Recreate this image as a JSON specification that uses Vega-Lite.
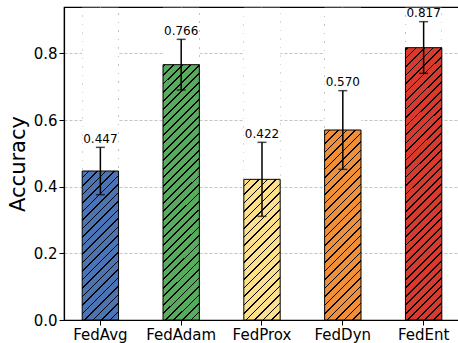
{
  "$schema": "https://vega.github.io/schema/vega-lite/v6.json",
  "width": 396,
  "height": 313,
  "autosize": {"type": "none"},
  "padding": {"left": 64, "top": 7, "right": 0, "bottom": 23},
  "config": {
    "font": "DejaVu Sans",
    "view": {"stroke": "#000", "strokeWidth": 1.2},
    "axis": {
      "labelColor": "#000", "titleColor": "#000", "tickColor": "#000", "domainColor": "#000",
      "domainWidth": 1.2, "tickWidth": 1, "tickSize": 5, "labelFontSize": 15,
      "titleFontSize": 21, "titleFontWeight": "normal", "labelPadding": 2,
      "grid": true, "gridColor": "#bdbdbd", "gridDash": [3, 2], "gridWidth": 0.9, "zindex": 1
    }
  },
  "data": {"values": [
    {"method": "FedAvg", "acc": 0.447, "lo": 0.376, "hi": 0.518},
    {"method": "FedAdam", "acc": 0.766, "lo": 0.690, "hi": 0.842},
    {"method": "FedProx", "acc": 0.422, "lo": 0.311, "hi": 0.533},
    {"method": "FedDyn", "acc": 0.570, "lo": 0.452, "hi": 0.688},
    {"method": "FedEnt", "acc": 0.817, "lo": 0.740, "hi": 0.895}
  ]},
  "encoding": {
    "x": {
      "field": "method", "type": "nominal", "sort": null,
      "scale": {"paddingInner": 0.55, "paddingOuter": 0.225},
      "axis": {"title": null, "labelAngle": 0, "bandPosition": 0.5}
    }
  },
  "layer": [
    {
      "mark": {"type": "bar", "stroke": null},
      "encoding": {
        "y": {"field": "acc", "type": "quantitative", "title": "Accuracy",
          "scale": {"domain": [0, 0.939], "nice": false},
          "axis": {"values": [0, 0.2, 0.4, 0.6, 0.8], "format": ".1f", "titlePadding": 5}},
        "fill": {"field": "method", "type": "nominal", "legend": null,
          "scale": {"domain": ["FedAvg", "FedAdam", "FedProx", "FedDyn", "FedEnt"],
            "range": ["#4a74b3", "#57ab5c", "#fde08b", "#f08f3a", "#d93a2e"]}}
      }
    },
    {
      "mark": {"type": "bar", "stroke": null, "fill": {"gradient": "linear", "x1": 0, "y1": 0, "x2": 0.128, "y2": 1.1013, "stops": [
        {"offset": 0, "color": "rgba(0,0,0,0)"},
        {"offset": 0.0221, "color": "rgba(0,0,0,0)"}, {"offset": 0.0221, "color": "#000"}, {"offset": 0.0267, "color": "#000"}, {"offset": 0.0267, "color": "rgba(0,0,0,0)"},
        {"offset": 0.0465, "color": "rgba(0,0,0,0)"}, {"offset": 0.0465, "color": "#000"}, {"offset": 0.0511, "color": "#000"}, {"offset": 0.0511, "color": "rgba(0,0,0,0)"},
        {"offset": 0.0709, "color": "rgba(0,0,0,0)"}, {"offset": 0.0709, "color": "#000"}, {"offset": 0.0755, "color": "#000"}, {"offset": 0.0755, "color": "rgba(0,0,0,0)"},
        {"offset": 0.0953, "color": "rgba(0,0,0,0)"}, {"offset": 0.0953, "color": "#000"}, {"offset": 0.0999, "color": "#000"}, {"offset": 0.0999, "color": "rgba(0,0,0,0)"},
        {"offset": 0.1197, "color": "rgba(0,0,0,0)"}, {"offset": 0.1197, "color": "#000"}, {"offset": 0.1243, "color": "#000"}, {"offset": 0.1243, "color": "rgba(0,0,0,0)"},
        {"offset": 0.1440, "color": "rgba(0,0,0,0)"}, {"offset": 0.1440, "color": "#000"}, {"offset": 0.1486, "color": "#000"}, {"offset": 0.1486, "color": "rgba(0,0,0,0)"},
        {"offset": 0.1684, "color": "rgba(0,0,0,0)"}, {"offset": 0.1684, "color": "#000"}, {"offset": 0.1730, "color": "#000"}, {"offset": 0.1730, "color": "rgba(0,0,0,0)"},
        {"offset": 0.1928, "color": "rgba(0,0,0,0)"}, {"offset": 0.1928, "color": "#000"}, {"offset": 0.1974, "color": "#000"}, {"offset": 0.1974, "color": "rgba(0,0,0,0)"},
        {"offset": 0.2172, "color": "rgba(0,0,0,0)"}, {"offset": 0.2172, "color": "#000"}, {"offset": 0.2218, "color": "#000"}, {"offset": 0.2218, "color": "rgba(0,0,0,0)"},
        {"offset": 0.2416, "color": "rgba(0,0,0,0)"}, {"offset": 0.2416, "color": "#000"}, {"offset": 0.2462, "color": "#000"}, {"offset": 0.2462, "color": "rgba(0,0,0,0)"},
        {"offset": 0.2660, "color": "rgba(0,0,0,0)"}, {"offset": 0.2660, "color": "#000"}, {"offset": 0.2706, "color": "#000"}, {"offset": 0.2706, "color": "rgba(0,0,0,0)"},
        {"offset": 0.2904, "color": "rgba(0,0,0,0)"}, {"offset": 0.2904, "color": "#000"}, {"offset": 0.2950, "color": "#000"}, {"offset": 0.2950, "color": "rgba(0,0,0,0)"},
        {"offset": 0.3148, "color": "rgba(0,0,0,0)"}, {"offset": 0.3148, "color": "#000"}, {"offset": 0.3194, "color": "#000"}, {"offset": 0.3194, "color": "rgba(0,0,0,0)"},
        {"offset": 0.3392, "color": "rgba(0,0,0,0)"}, {"offset": 0.3392, "color": "#000"}, {"offset": 0.3438, "color": "#000"}, {"offset": 0.3438, "color": "rgba(0,0,0,0)"},
        {"offset": 0.3636, "color": "rgba(0,0,0,0)"}, {"offset": 0.3636, "color": "#000"}, {"offset": 0.3682, "color": "#000"}, {"offset": 0.3682, "color": "rgba(0,0,0,0)"},
        {"offset": 0.3879, "color": "rgba(0,0,0,0)"}, {"offset": 0.3879, "color": "#000"}, {"offset": 0.3925, "color": "#000"}, {"offset": 0.3925, "color": "rgba(0,0,0,0)"},
        {"offset": 0.4123, "color": "rgba(0,0,0,0)"}, {"offset": 0.4123, "color": "#000"}, {"offset": 0.4169, "color": "#000"}, {"offset": 0.4169, "color": "rgba(0,0,0,0)"},
        {"offset": 0.4367, "color": "rgba(0,0,0,0)"}, {"offset": 0.4367, "color": "#000"}, {"offset": 0.4413, "color": "#000"}, {"offset": 0.4413, "color": "rgba(0,0,0,0)"},
        {"offset": 0.4611, "color": "rgba(0,0,0,0)"}, {"offset": 0.4611, "color": "#000"}, {"offset": 0.4657, "color": "#000"}, {"offset": 0.4657, "color": "rgba(0,0,0,0)"},
        {"offset": 0.4855, "color": "rgba(0,0,0,0)"}, {"offset": 0.4855, "color": "#000"}, {"offset": 0.4901, "color": "#000"}, {"offset": 0.4901, "color": "rgba(0,0,0,0)"},
        {"offset": 0.5099, "color": "rgba(0,0,0,0)"}, {"offset": 0.5099, "color": "#000"}, {"offset": 0.5145, "color": "#000"}, {"offset": 0.5145, "color": "rgba(0,0,0,0)"},
        {"offset": 0.5343, "color": "rgba(0,0,0,0)"}, {"offset": 0.5343, "color": "#000"}, {"offset": 0.5389, "color": "#000"}, {"offset": 0.5389, "color": "rgba(0,0,0,0)"},
        {"offset": 0.5587, "color": "rgba(0,0,0,0)"}, {"offset": 0.5587, "color": "#000"}, {"offset": 0.5633, "color": "#000"}, {"offset": 0.5633, "color": "rgba(0,0,0,0)"},
        {"offset": 0.5831, "color": "rgba(0,0,0,0)"}, {"offset": 0.5831, "color": "#000"}, {"offset": 0.5877, "color": "#000"}, {"offset": 0.5877, "color": "rgba(0,0,0,0)"},
        {"offset": 0.6075, "color": "rgba(0,0,0,0)"}, {"offset": 0.6075, "color": "#000"}, {"offset": 0.6121, "color": "#000"}, {"offset": 0.6121, "color": "rgba(0,0,0,0)"},
        {"offset": 0.6319, "color": "rgba(0,0,0,0)"}, {"offset": 0.6319, "color": "#000"}, {"offset": 0.6365, "color": "#000"}, {"offset": 0.6365, "color": "rgba(0,0,0,0)"},
        {"offset": 0.6562, "color": "rgba(0,0,0,0)"}, {"offset": 0.6562, "color": "#000"}, {"offset": 0.6608, "color": "#000"}, {"offset": 0.6608, "color": "rgba(0,0,0,0)"},
        {"offset": 0.6806, "color": "rgba(0,0,0,0)"}, {"offset": 0.6806, "color": "#000"}, {"offset": 0.6852, "color": "#000"}, {"offset": 0.6852, "color": "rgba(0,0,0,0)"},
        {"offset": 0.7050, "color": "rgba(0,0,0,0)"}, {"offset": 0.7050, "color": "#000"}, {"offset": 0.7096, "color": "#000"}, {"offset": 0.7096, "color": "rgba(0,0,0,0)"},
        {"offset": 0.7294, "color": "rgba(0,0,0,0)"}, {"offset": 0.7294, "color": "#000"}, {"offset": 0.7340, "color": "#000"}, {"offset": 0.7340, "color": "rgba(0,0,0,0)"},
        {"offset": 0.7538, "color": "rgba(0,0,0,0)"}, {"offset": 0.7538, "color": "#000"}, {"offset": 0.7584, "color": "#000"}, {"offset": 0.7584, "color": "rgba(0,0,0,0)"},
        {"offset": 0.7782, "color": "rgba(0,0,0,0)"}, {"offset": 0.7782, "color": "#000"}, {"offset": 0.7828, "color": "#000"}, {"offset": 0.7828, "color": "rgba(0,0,0,0)"},
        {"offset": 0.8026, "color": "rgba(0,0,0,0)"}, {"offset": 0.8026, "color": "#000"}, {"offset": 0.8072, "color": "#000"}, {"offset": 0.8072, "color": "rgba(0,0,0,0)"},
        {"offset": 0.8270, "color": "rgba(0,0,0,0)"}, {"offset": 0.8270, "color": "#000"}, {"offset": 0.8316, "color": "#000"}, {"offset": 0.8316, "color": "rgba(0,0,0,0)"},
        {"offset": 0.8514, "color": "rgba(0,0,0,0)"}, {"offset": 0.8514, "color": "#000"}, {"offset": 0.8560, "color": "#000"}, {"offset": 0.8560, "color": "rgba(0,0,0,0)"},
        {"offset": 0.8758, "color": "rgba(0,0,0,0)"}, {"offset": 0.8758, "color": "#000"}, {"offset": 0.8804, "color": "#000"}, {"offset": 0.8804, "color": "rgba(0,0,0,0)"},
        {"offset": 0.9001, "color": "rgba(0,0,0,0)"}, {"offset": 0.9001, "color": "#000"}, {"offset": 0.9047, "color": "#000"}, {"offset": 0.9047, "color": "rgba(0,0,0,0)"},
        {"offset": 0.9245, "color": "rgba(0,0,0,0)"}, {"offset": 0.9245, "color": "#000"}, {"offset": 0.9291, "color": "#000"}, {"offset": 0.9291, "color": "rgba(0,0,0,0)"},
        {"offset": 0.9489, "color": "rgba(0,0,0,0)"}, {"offset": 0.9489, "color": "#000"}, {"offset": 0.9535, "color": "#000"}, {"offset": 0.9535, "color": "rgba(0,0,0,0)"},
        {"offset": 0.9733, "color": "rgba(0,0,0,0)"}, {"offset": 0.9733, "color": "#000"}, {"offset": 0.9779, "color": "#000"}, {"offset": 0.9779, "color": "rgba(0,0,0,0)"},
        {"offset": 1, "color": "rgba(0,0,0,0)"}
      ]}},
      "encoding": {
        "y": {"datum": 0, "type": "quantitative", "title": "Accuracy"},
        "y2": {"datum": 0.937}
      }
    },
    {
      "mark": {"type": "bar", "fill": "#ffffff", "stroke": null},
      "encoding": {
        "y": {"field": "acc", "type": "quantitative", "title": "Accuracy"},
        "y2": {"datum": 0.937}
      }
    },
    {
      "mark": {"type": "bar", "fill": null, "stroke": "#000", "strokeWidth": 1},
      "encoding": {
        "y": {"field": "acc", "type": "quantitative", "title": "Accuracy"}
      }
    },
    {
      "mark": {"type": "rule", "color": "#000", "strokeWidth": 1.5},
      "encoding": {
        "y": {"field": "lo", "type": "quantitative", "title": "Accuracy"},
        "y2": {"field": "hi"}
      }
    },
    {
      "mark": {"type": "tick", "color": "#000", "thickness": 1.5, "size": 9},
      "encoding": {"y": {"field": "lo", "type": "quantitative", "title": "Accuracy"}}
    },
    {
      "mark": {"type": "tick", "color": "#000", "thickness": 1.5, "size": 9},
      "encoding": {"y": {"field": "hi", "type": "quantitative", "title": "Accuracy"}}
    },
    {
      "mark": {"type": "text", "baseline": "alphabetic", "dy": -4.5, "fontSize": 12, "color": "#000"},
      "encoding": {
        "y": {"field": "hi", "type": "quantitative", "title": "Accuracy"},
        "text": {"field": "acc", "type": "quantitative", "format": ".3f"}
      }
    }
  ]
}
